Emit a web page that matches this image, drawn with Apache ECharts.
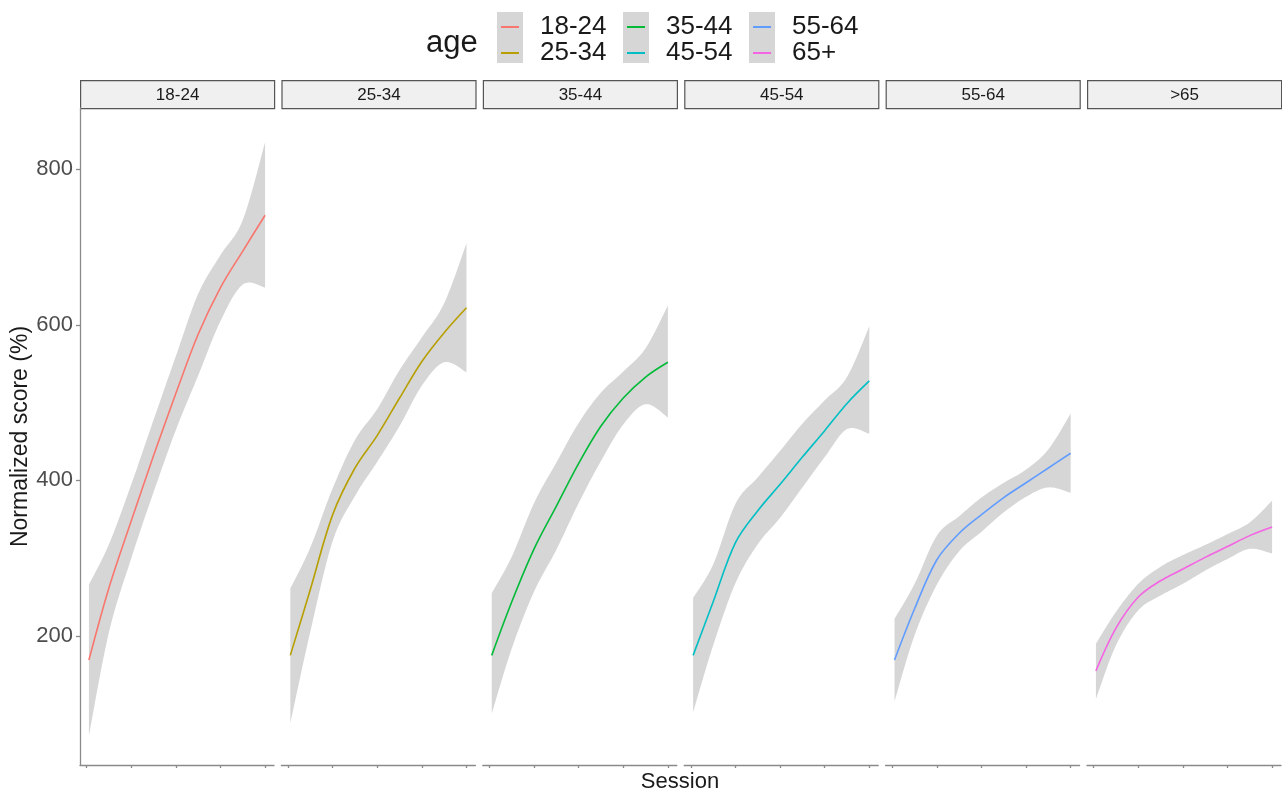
<!DOCTYPE html>
<html>
<head>
<meta charset="utf-8">
<script src="https://cdn.jsdelivr.net/npm/echarts@6.0.0/dist/echarts.min.js"></script>
<style>
  html, body { margin: 0; padding: 0; background: #ffffff; }
  #chart { width: 1282px; height: 794px; }
</style>
</head>
<body>
<div id="chart"></div>
<script>
// ---- data ----
const ageGroups   = ['18-24', '25-34', '35-44', '45-54', '55-64', '65+'];
const panelLabels = ['18-24', '25-34', '35-44', '45-54', '55-64', '>65'];
const ageColors   = ['#F8766D', '#B79F00', '#00BA38', '#00BFC4', '#619CFF', '#F564E3'];
const sessions    = [1.05, 1.5, 2, 2.5, 3, 3.5, 4, 4.5, 5];
const yTicks      = [200, 400, 600, 800];
const xTicks      = [1, 2, 3, 4, 5];

const fit_18_24   = [169, 262, 348, 432, 512, 588, 648, 695, 741];
const upper_18_24 = [266, 318, 395, 478, 560, 640, 690, 735, 835];
const lower_18_24 = [72, 205, 300, 385, 465, 535, 605, 652, 648];

const fit_25_34   = [175, 260, 356, 416, 458, 506, 553, 590, 622];
const upper_25_34 = [261, 314, 390, 452, 492, 542, 584, 628, 705];
const lower_25_34 = [88, 206, 322, 380, 424, 470, 522, 552, 539];

const fit_35_44   = [175, 244, 312, 367, 422, 470, 506, 533, 552];
const upper_35_44 = [255, 302, 371, 423, 474, 513, 540, 570, 625];
const lower_35_44 = [100, 184, 257, 311, 371, 425, 472, 498, 481];

const fit_45_54   = [175, 244, 320, 361, 395, 430, 464, 499, 528];
const upper_45_54 = [249, 292, 370, 404, 438, 473, 503, 533, 598];
const lower_45_54 = [102, 188, 268, 318, 352, 391, 430, 466, 460];

const fit_55_64   = [169, 235, 298, 332, 356, 378, 397, 416, 435];
const upper_55_64 = [222, 267, 329, 354, 378, 397, 414, 440, 486];
const lower_55_64 = [116, 201, 266, 309, 334, 359, 379, 391, 384];

const fit_65      = [155, 210, 250, 271, 286, 301, 315, 329, 340];
const upper_65    = [190, 231, 267, 289, 304, 317, 331, 346, 374];
const lower_65    = [119, 188, 233, 252, 267, 284, 299, 312, 306];

const fits   = [fit_18_24, fit_25_34, fit_35_44, fit_45_54, fit_55_64, fit_65];
const uppers = [upper_18_24, upper_25_34, upper_35_44, upper_45_54, upper_55_64, upper_65];
const lowers = [lower_18_24, lower_25_34, lower_35_44, lower_45_54, lower_55_64, lower_65];

// ---- layout ----
const FONT = '"Liberation Sans", Arial, sans-serif';
const PANEL_LEFT = 80, PANEL_PITCH = 201.4, PANEL_W = 194;
const PANEL_TOP = 108, PANEL_H = 657;
const STRIP_TOP = 80, STRIP_H = 28;
const RIBBON = '#d6d6d6';
const AXIS_COL = '#8a8a8a';

// smooth a pixel polyline (Catmull-Rom style cubic segments), returns dense points for drawing
function smoothPixels(p, k, steps) {
  const out = [p[0]];
  for (let i = 0; i < p.length - 1; i++) {
    const p0 = p[Math.max(i - 1, 0)], p1 = p[i], p2 = p[i + 1], p3 = p[Math.min(i + 2, p.length - 1)];
    const c1 = [p1[0] + (p2[0] - p0[0]) * k, p1[1] + (p2[1] - p0[1]) * k];
    const c2 = [p2[0] - (p3[0] - p1[0]) * k, p2[1] - (p3[1] - p1[1]) * k];
    for (let t = 1; t <= steps; t++) {
      const u = t / steps, v = 1 - u;
      out.push([
        v * v * v * p1[0] + 3 * v * v * u * c1[0] + 3 * v * u * u * c2[0] + u * u * u * p2[0],
        v * v * v * p1[1] + 3 * v * v * u * c1[1] + 3 * v * u * u * c2[1] + u * u * u * p2[1]
      ]);
    }
  }
  return out;
}

function ribbonRenderer(panel) {
  return function (params, api) {
    if (params.dataIndex !== 0) return null;
    const up = sessions.map((s, k) => api.coord([s, uppers[panel][k]]));
    const lo = sessions.map((s, k) => api.coord([s, lowers[panel][k]]));
    const pts = smoothPixels(up, 0.17, 16).concat(smoothPixels(lo.reverse(), 0.17, 16));
    return { type: 'polygon', shape: { points: pts }, style: { fill: RIBBON }, silent: true };
  };
}

const grids = [], xAxes = [], yAxes = [], series = [], graphics = [];
for (let i = 0; i < 6; i++) {
  const left = PANEL_LEFT + i * PANEL_PITCH;
  grids.push({ left: left, top: PANEL_TOP, width: PANEL_W, height: PANEL_H });
  xAxes.push({
    type: 'value', gridIndex: i, min: 0.85, max: 5.2, z: 10,
    axisLine: { show: true, onZero: false, lineStyle: { color: AXIS_COL, width: 1.3 } },
    axisTick: { show: true, customValues: xTicks, length: 3, lineStyle: { color: AXIS_COL, width: 1.3 } },
    axisLabel: { show: false },
    splitLine: { show: false }
  });
  yAxes.push({
    type: 'value', gridIndex: i, min: 34, max: 879, show: i === 0, z: 10,
    name: i === 0 ? 'Normalized score (%)' : '',
    nameLocation: 'middle', nameGap: 45, nameRotate: 90,
    nameTextStyle: { fontFamily: FONT, fontSize: 23, color: '#1a1a1a' },
    axisLine: { show: true, lineStyle: { color: AXIS_COL, width: 1.3 } },
    axisTick: { show: true, customValues: yTicks, length: 4, lineStyle: { color: AXIS_COL, width: 1.3 } },
    axisLabel: { show: true, customValues: yTicks, fontFamily: FONT, fontSize: 22, color: '#4d4d4d', margin: 7 },
    splitLine: { show: false }
  });
  series.push({
    type: 'custom', name: 'ribbon' + i, xAxisIndex: i, yAxisIndex: i,
    data: sessions.map((s, k) => [s, lowers[i][k], uppers[i][k]]),
    encode: { x: 0, y: [1, 2] },
    renderItem: ribbonRenderer(i), silent: true, z: 1
  });
  series.push({
    type: 'line', name: ageGroups[i], xAxisIndex: i, yAxisIndex: i,
    data: sessions.map((s, k) => [s, fits[i][k]]),
    smooth: 0.35, symbol: 'none', color: ageColors[i],
    lineStyle: { width: 1.6, color: ageColors[i] }, z: 3
  });
  // facet strip
  graphics.push({
    type: 'group', left: left, top: STRIP_TOP, silent: true,
    children: [
      { type: 'rect', shape: { x: 0, y: 0, width: PANEL_W, height: STRIP_H },
        style: { fill: '#f0f0f0', stroke: '#555555', lineWidth: 1.2 } },
      { type: 'text', x: PANEL_W / 2, y: STRIP_H / 2 + 1,
        style: { text: panelLabels[i], fill: '#1a1a1a', font: '17px ' + FONT, align: 'center', verticalAlign: 'middle' } }
    ]
  });
}

// legend key backgrounds and title
const legendKeyX = [497, 623, 749];
legendKeyX.forEach(function (x) {
  graphics.push({ type: 'rect', silent: true, z: 0, shape: { x: x, y: 12, width: 26, height: 51 }, style: { fill: RIBBON } });
});
graphics.push({ type: 'text', silent: true, x: 426, y: 43,
  style: { text: 'age', fill: '#1a1a1a', font: '31px ' + FONT, align: 'left', verticalAlign: 'middle' } });
graphics.push({ type: 'text', silent: true, x: 680, y: 782,
  style: { text: 'Session', fill: '#1a1a1a', font: '22px ' + FONT, align: 'center', verticalAlign: 'middle' } });

const legends = [0, 1, 2].map(function (c) {
  return {
    orient: 'vertical', left: legendKeyX[c] - 1, top: 9, itemGap: 0,
    itemWidth: 18, itemHeight: 2, icon: 'rect',
    selectedMode: false,
    data: [ageGroups[c * 2], ageGroups[c * 2 + 1]],
    textStyle: { fontFamily: FONT, fontSize: 26, color: '#1a1a1a', lineHeight: 26, padding: [0, 0, 0, 16] }
  };
});

const chart = echarts.init(document.getElementById('chart'), null, { renderer: 'canvas' });
chart.setOption({
  backgroundColor: '#ffffff',
  animation: false,
  grid: grids, xAxis: xAxes, yAxis: yAxes,
  legend: legends,
  graphic: graphics,
  series: series
});
</script>
</body>
</html>
